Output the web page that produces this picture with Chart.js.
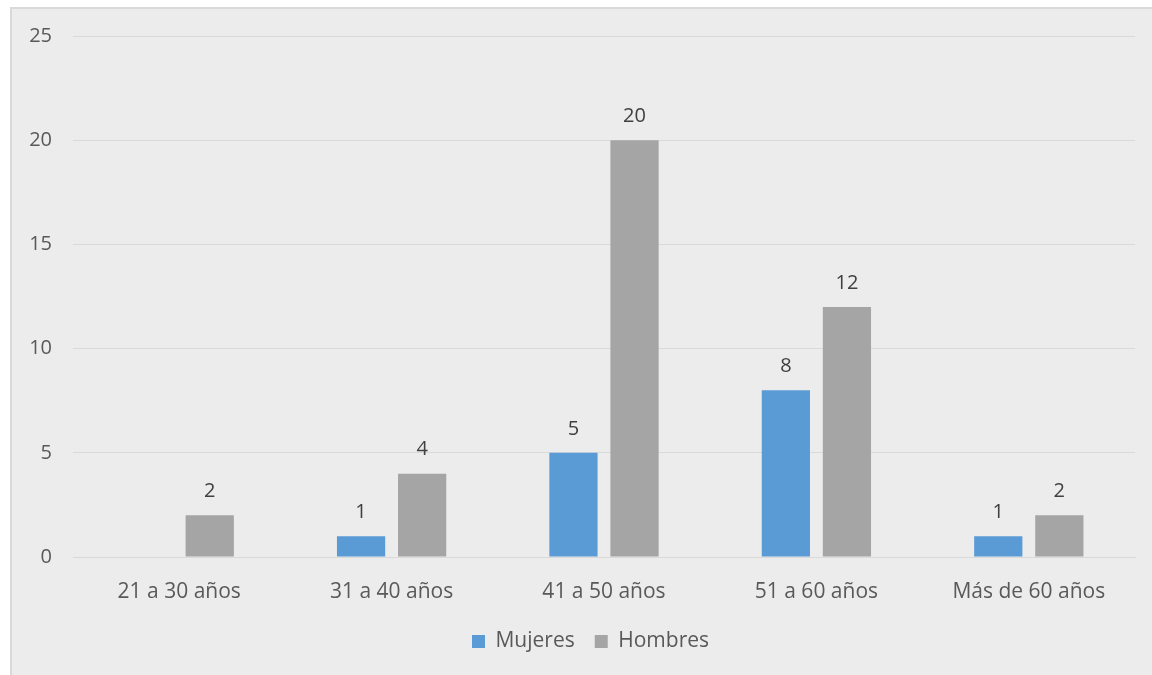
<!DOCTYPE html>
<html>
<head>
<meta charset="utf-8">
<script src="https://cdn.jsdelivr.net/npm/chart.js@4"></script>
<style>
  body { margin: 0; background: #fff; }
  #frame {
    position: absolute; left: 10px; top: 7px; width: 1142px; height: 668px;
    background: #ececec; border-left: 2px solid #d9d9d9; border-top: 2px solid #d9d9d9;
    box-sizing: border-box;
  }
  #barChart { position: absolute; left: 0; top: 0; }
</style>
</head>
<body>
<div id="frame"></div>
<canvas id="barChart" width="1152" height="675"></canvas>
<script>
// Chart data
const categories = ['21 a 30 años', '31 a 40 años', '41 a 50 años', '51 a 60 años', 'Más de 60 años'];
const mujeres = [null, 1, 5, 8, 1];
const hombres = [2, 4, 20, 12, 2];
const yTicks = [0, 5, 10, 15, 20, 25];

const FONT = "'Open Sans', sans-serif";
const TEXT = '#595959';

// Draw value labels above each bar
const valueLabels = {
    id: 'valueLabels',
    afterDatasetsDraw(chart) {
        const ctx = chart.ctx;
        ctx.save();
        ctx.font = '20px ' + FONT;
        ctx.fillStyle = '#404040';
        ctx.textAlign = 'center';
        ctx.textBaseline = 'bottom';
        chart.data.datasets.forEach((ds, i) => {
            chart.getDatasetMeta(i).data.forEach((bar, j) => {
                const v = ds.data[j];
                if (v === null || v === undefined) return;
                ctx.fillText(String(v), bar.x, bar.y - 14);
            });
        });
        ctx.restore();
    }
};

// Centre the legend under the plot area instead of the whole canvas
const legendShift = {
    id: 'legendShift',
    afterLayout(chart) {
        const lg = chart.legend;
        if (!lg) return;
        lg.left += 23;
        lg.right += 23;
        lg.adjustHitBoxes();
    }
};

new Chart(document.getElementById('barChart'), {
    type: 'bar',
    data: {
        labels: categories,
        datasets: [{
            label: 'Mujeres',
            data: mujeres,
            backgroundColor: '#5b9bd5',
            barPercentage: 0.79,
            categoryPercentage: 0.575
        }, {
            label: 'Hombres',
            data: hombres,
            backgroundColor: '#a5a5a5',
            barPercentage: 0.79,
            categoryPercentage: 0.575
        }]
    },
    options: {
        responsive: false,
        animation: false,
        layout: {
            padding: { top: 36, right: 17, bottom: 13, left: 0 }
        },
        plugins: {
            legend: {
                position: 'bottom',
                labels: {
                    color: TEXT,
                    font: { family: FONT, size: 21 },
                    boxWidth: 13,
                    boxHeight: 13,
                    padding: 20
                }
            },
            tooltip: { enabled: false }
        },
        scales: {
            x: {
                grid: { display: false },
                border: { color: '#d9d9d9', width: 1 },
                ticks: {
                    color: TEXT,
                    font: { family: FONT, size: 21 },
                    padding: 14,
                    maxRotation: 0
                },
                afterFit(scale) { scale.height = 54; }
            },
            y: {
                min: 0,
                max: 25,
                afterBuildTicks(scale) {
                    scale.ticks = yTicks.map(v => ({ value: v }));
                },
                grid: { color: '#d9d9d9', drawTicks: false },
                border: { display: false },
                ticks: {
                    color: TEXT,
                    font: { family: FONT, size: 20 },
                    padding: 21
                },
                afterFit(scale) { scale.width = 73; }
            }
        }
    },
    plugins: [valueLabels, legendShift]
});
</script>
</body>
</html>
